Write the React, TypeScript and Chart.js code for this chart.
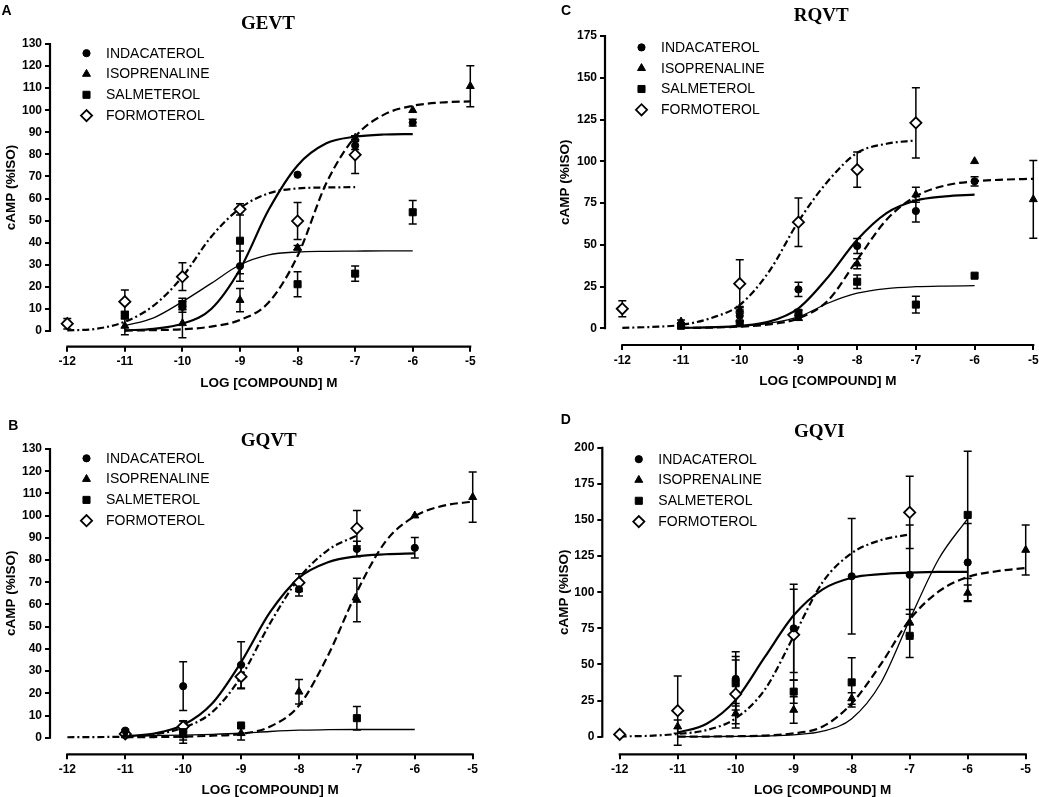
import React, { useEffect, useRef } from 'react';
import { Chart, registerables } from 'chart.js';

Chart.register(...registerables);

const FONT = '"Liberation Sans", Arial, sans-serif';
const SERIF = '"Liberation Serif", "Times New Roman", serif';

// ---------- shared labels ----------
const SERIES_NAMES = ['INDACATEROL', 'ISOPRENALINE', 'SALMETEROL', 'FORMOTEROL'];
const X_TICKS = [-12, -11, -10, -9, -8, -7, -6, -5];
const X_TITLE = 'LOG [COMPOUND] M';
const Y_TITLE = 'cAMP (%ISO)';

const FIT_X_FOR = [-12, -11.5, -11, -10.5, -10, -9.5, -9, -8.5, -8, -7.5, -7];
const FIT_X_IND = [-11, -10.5, -10, -9.5, -9, -8.5, -8, -7.5, -7, -6.5, -6];
const FIT_X_SAL = [-11, -10.5, -10, -9.5, -9, -8.5, -8, -7.5, -7, -6.5, -6];
const FIT_X_ISO = [-11, -10.5, -10, -9.5, -9, -8.5, -8, -7.5, -7, -6.5, -6, -5.5, -5];

// ---------- Panel A : GEVT ----------
const A_Y_TICKS = [0, 10, 20, 30, 40, 50, 60, 70, 80, 90, 100, 110, 120, 130];
const A_IND_X = [-11, -10, -9, -8, -7, -6];
const A_IND_Y = [7.2, 11, 29.4, 70.8, 84, 94.4];
const A_IND_E = [1.6, 2.5, 6.8, 0, 1.8, 1.5];
const A_ISO_X = [-11, -10, -9, -8, -7, -6, -5];
const A_ISO_Y = [2.3, 3.5, 14, 37.7, 87.5, 100, 110.9];
const A_ISO_E = [4, 6.5, 5.3, 1, 1, 0, 9.3];
const A_SAL_X = [-11, -10, -9, -8, -7, -6];
const A_SAL_Y = [7.2, 12.2, 40.9, 21.2, 26, 53.8];
const A_SAL_E = [1.6, 2.6, 15, 5.7, 3.5, 5.3];
const A_FOR_X = [-12, -11, -10, -9, -8, -7];
const A_FOR_Y = [3.3, 13.3, 24.6, 55.1, 49.8, 79.8];
const A_FOR_E = [2.4, 5.3, 6.3, 2.5, 8.4, 8.5];
const A_IND_FIT = [0.3, 1, 3.3, 10, 28, 55, 75, 85, 88, 89, 89.2];
const A_ISO_FIT = [0.2, 0.4, 0.8, 2, 5, 13, 34, 67, 88, 98, 102, 103.5, 104];
const A_SAL_FIT = [2.4, 6, 13.3, 21.6, 30, 34.5, 35.8, 36.1, 36.2, 36.3, 36.3];
const A_FOR_FIT = [0.3, 1, 4.2, 11.5, 24.6, 42.7, 55.6, 62.4, 64.6, 65, 65.2];

// ---------- Panel C : RQVT ----------
const C_Y_TICKS = [0, 25, 50, 75, 100, 125, 150, 175];
const C_IND_X = [-11, -10, -9, -8, -7, -6];
const C_IND_Y = [2, 7.5, 23.3, 49.3, 70.2, 88];
const C_IND_E = [1, 3.5, 4.2, 4.5, 6.5, 2.8];
const C_ISO_X = [-11, -10, -9, -8, -7, -6, -5];
const C_ISO_Y = [4, 11, 6, 38.7, 80, 100, 77.2];
const C_ISO_E = [1, 2, 1, 3, 4.5, 0, 23.3];
const C_SAL_X = [-11, -10, -9, -8, -7, -6];
const C_SAL_Y = [1.5, 3, 9.3, 27.9, 14.2, 31.5];
const C_SAL_E = [1, 1.5, 1.5, 4, 5, 0];
const C_FOR_X = [-12, -10, -9, -8, -7];
const C_FOR_Y = [11.7, 26.7, 63.5, 95, 123];
const C_FOR_E = [4.8, 14.4, 14.5, 10.5, 21];
const C_IND_FIT = [0.2, 0.6, 1.5, 4, 12, 30.5, 53, 69, 76.5, 79, 80];
const C_ISO_FIT = [0.2, 0.4, 1, 2.3, 6, 16.5, 41, 65, 79, 85.5, 88, 89, 89.5];
const C_SAL_FIT = [0.3, 0.7, 1.3, 3, 6.8, 15, 21, 23.8, 24.9, 25.3, 25.5];
const C_FOR_FIT = [0.3, 0.8, 2, 6, 14, 34, 64, 88, 105, 110.5, 112.5];

// ---------- Panel B : GQVT ----------
const B_Y_TICKS = [0, 10, 20, 30, 40, 50, 60, 70, 80, 90, 100, 110, 120, 130];
const B_IND_X = [-11, -10, -9, -8, -7, -6];
const B_IND_Y = [3.2, 23.2, 32.8, 66.8, 85, 85.5];
const B_IND_E = [0.5, 11, 10.4, 3, 3.5, 4.6];
const B_ISO_X = [-11, -10, -9, -8, -7, -6, -5];
const B_ISO_Y = [1, 1, 2, 20.7, 62, 100, 108.3];
const B_ISO_E = [0, 2, 3, 5.5, 9.8, 0, 11.3];
const B_SAL_X = [-10, -9, -7];
const B_SAL_Y = [2.5, 5.5, 8.8];
const B_SAL_E = [5, 0, 5.3];
const B_FOR_X = [-11, -10, -9, -8, -7];
const B_FOR_Y = [1.7, 5, 27.5, 69.8, 94.3];
const B_FOR_E = [0, 2.5, 5.5, 4, 8];
const B_IND_FIT = [0.7, 1.9, 5.7, 15.4, 34, 56.5, 72, 79, 81.7, 82.6, 83];
const B_ISO_FIT = [0.2, 0.3, 0.5, 0.9, 1.7, 5, 14.5, 37, 65.7, 88.5, 99.7, 104.5, 106.3];
const B_SAL_FIT = [0.8, 1, 1.2, 1.5, 2, 2.8, 3.4, 3.6, 3.7, 3.7, 3.7];
const B_FOR_FIT = [0.2, 0.3, 0.5, 1.5, 4.5, 11.5, 27.5, 51.5, 71.8, 84.5, 91];

// ---------- Panel D : GQVI ----------
const D_Y_TICKS = [0, 25, 50, 75, 100, 125, 150, 175, 200];
const D_IND_X = [-10, -9, -8, -7, -6];
const D_IND_Y = [40, 75, 111, 112, 120.6];
const D_IND_E = [18.8, 30.5, 40, 34.5, 27];
const D_ISO_X = [-11, -10, -9, -8, -7, -6, -5];
const D_ISO_Y = [7, 16, 18.5, 26.5, 79, 99.5, 129.2];
const D_ISO_E = [4.6, 7, 9.2, 4, 9, 5.5, 17.3];
const D_SAL_X = [-10, -9, -8, -7, -6];
const D_SAL_Y = [37, 31.2, 37.6, 69.8, 153.5];
const D_SAL_E = [18.5, 8, 17, 15, 44];
const D_FOR_X = [-12, -11, -10, -9, -7];
const D_FOR_Y = [1.6, 18, 29.5, 70.5, 155.2];
const D_FOR_E = [0, 24, 23.5, 31.5, 25];
const D_IND_FIT = [2.8, 9, 25.5, 55, 84, 102, 110, 112.5, 113.5, 114, 114];
const D_ISO_FIT = [0, 0.1, 0.3, 0.8, 2.3, 7, 23, 50, 81, 100.5, 110.5, 114.5, 116.8];
const D_SAL_FIT = [0, 0.1, 0.2, 0.5, 1.3, 3.8, 12.5, 37, 81, 123, 151];
const D_FOR_FIT = [0.2, 0.6, 1.9, 4.6, 12.7, 32.5, 69.5, 107, 127, 136, 140];

// ---------- styles ----------
const MARKERS = [
  { style: 'circle', radius: 3.6, fill: '#000', bw: 1 },
  { style: 'triangle', radius: 4.6, fill: '#000', bw: 1 },
  { style: 'rect', radius: 5, fill: '#000', bw: 1 },
  { style: 'rectRot', radius: 5.6, fill: '#fff', bw: 1.8 },
];
const CURVES = [
  { width: 2.2, dash: [] as number[] },
  { width: 2.2, dash: [8, 4] },
  { width: 1.3, dash: [] as number[] },
  { width: 2.2, dash: [7, 3, 2, 3] },
];

type SeriesData = { x: number[]; y: number[]; e: number[]; fx: number[]; fy: number[] };
type PanelSpec = {
  letter: string;
  title: string;
  yTicks: number[];
  series: SeriesData[];
  // layout (page pixels)
  cx: number; cy: number; cw: number; ch: number;
  L: number; R: number; T: number; B: number;
  xMin: number; yMin: number;
  letterX: number; letterY: number;
  titleX: number; titleY: number;
  yTitleX: number; legendDy: number;
};

const PANELS: PanelSpec[] = [
  {
    letter: 'A', title: 'GEVT', yTicks: A_Y_TICKS,
    series: [
      { x: A_IND_X, y: A_IND_Y, e: A_IND_E, fx: FIT_X_IND, fy: A_IND_FIT },
      { x: A_ISO_X, y: A_ISO_Y, e: A_ISO_E, fx: FIT_X_ISO, fy: A_ISO_FIT },
      { x: A_SAL_X, y: A_SAL_Y, e: A_SAL_E, fx: FIT_X_SAL, fy: A_SAL_FIT },
      { x: A_FOR_X, y: A_FOR_Y, e: A_FOR_E, fx: FIT_X_FOR, fy: A_FOR_FIT },
    ],
    cx: 0, cy: 0, cw: 519, ch: 390, L: 50, R: 470.3, T: 44, B: 346.7,
    xMin: -12.3, yMin: -7.1,
    letterX: 1.5, letterY: 15, titleX: 268, titleY: 29.3, yTitleX: 14.5, legendDy: 9.2,
  },
  {
    letter: 'C', title: 'RQVT', yTicks: C_Y_TICKS,
    series: [
      { x: C_IND_X, y: C_IND_Y, e: C_IND_E, fx: FIT_X_IND, fy: C_IND_FIT },
      { x: C_ISO_X, y: C_ISO_Y, e: C_ISO_E, fx: FIT_X_ISO, fy: C_ISO_FIT },
      { x: C_SAL_X, y: C_SAL_Y, e: C_SAL_E, fx: FIT_X_SAL, fy: C_SAL_FIT },
      { x: C_FOR_X, y: C_FOR_Y, e: C_FOR_E, fx: FIT_X_FOR, fy: C_FOR_FIT },
    ],
    cx: 519, cy: 0, cw: 540, ch: 390, L: 605, R: 1033.3, T: 36, B: 345,
    xMin: -12.295, yMin: -10,
    letterX: 561, letterY: 15, titleX: 821.2, titleY: 21, yTitleX: 568.5, legendDy: 11.4,
  },
  {
    letter: 'B', title: 'GQVT', yTicks: B_Y_TICKS,
    series: [
      { x: B_IND_X, y: B_IND_Y, e: B_IND_E, fx: FIT_X_IND, fy: B_IND_FIT },
      { x: B_ISO_X, y: B_ISO_Y, e: B_ISO_E, fx: FIT_X_ISO, fy: B_ISO_FIT },
      { x: B_SAL_X, y: B_SAL_Y, e: B_SAL_E, fx: FIT_X_SAL, fy: B_SAL_FIT },
      { x: B_FOR_X, y: B_FOR_Y, e: B_FOR_E, fx: FIT_X_FOR, fy: B_FOR_FIT },
    ],
    cx: 0, cy: 390, cw: 519, ch: 407, L: 50, R: 472.7, T: 449, B: 754.3,
    xMin: -12.3, yMin: -7.47,
    letterX: 8.3, letterY: 430, titleX: 268.8, titleY: 446, yTitleX: 14.5, legendDy: 9.3,
  },
  {
    letter: 'D', title: 'GQVI', yTicks: D_Y_TICKS,
    series: [
      { x: D_IND_X, y: D_IND_Y, e: D_IND_E, fx: FIT_X_IND, fy: D_IND_FIT },
      { x: D_ISO_X, y: D_ISO_Y, e: D_ISO_E, fx: FIT_X_ISO, fy: D_ISO_FIT },
      { x: D_SAL_X, y: D_SAL_Y, e: D_SAL_E, fx: FIT_X_SAL, fy: D_SAL_FIT },
      { x: D_FOR_X, y: D_FOR_Y, e: D_FOR_E, fx: FIT_X_FOR, fy: D_FOR_FIT },
    ],
    cx: 519, cy: 390, cw: 540, ch: 407, L: 602.3, R: 1025.7, T: 447.7, B: 754.3,
    xMin: -12.3, yMin: -12.18,
    letterX: 560.7, letterY: 423.5, titleX: 819.3, titleY: 436.5, yTitleX: 568, legendDy: 11.5,
  },
];

function drawMarker(ctx: CanvasRenderingContext2D, m: typeof MARKERS[number], x: number, y: number) {
  ctx.beginPath();
  const r = m.radius;
  if (m.style === 'circle') {
    ctx.arc(x, y, r, 0, Math.PI * 2);
  } else if (m.style === 'triangle') {
    ctx.moveTo(x, y - r);
    ctx.lineTo(x + r * 0.866, y + r * 0.5);
    ctx.lineTo(x - r * 0.866, y + r * 0.5);
    ctx.closePath();
  } else if (m.style === 'rect') {
    const s = r * Math.SQRT1_2;
    ctx.rect(x - s, y - s, 2 * s, 2 * s);
  } else {
    ctx.moveTo(x - r, y);
    ctx.lineTo(x, y - r);
    ctx.lineTo(x + r, y);
    ctx.lineTo(x, y + r);
    ctx.closePath();
  }
  ctx.fillStyle = m.fill;
  ctx.fill();
  ctx.lineWidth = m.bw;
  ctx.strokeStyle = '#000';
  ctx.stroke();
}

function makeDecor(p: PanelSpec) {
  return {
    id: 'decor' + p.letter,
    beforeDatasetsDraw(chart: any) {
      const { ctx } = chart;
      const ys = chart.scales.y;
      ctx.save();
      ctx.strokeStyle = '#000';
      ctx.lineWidth = 1.5;
      chart.data.datasets.forEach((ds: any, i: number) => {
        if (!ds.errors) return;
        const meta = chart.getDatasetMeta(i);
        meta.data.forEach((pt: any, j: number) => {
          const e = ds.errors[j];
          if (!e) return;
          const v = ds.data[j].y;
          const top = ys.getPixelForValue(v + e);
          const bot = ys.getPixelForValue(v - e);
          ctx.beginPath();
          ctx.moveTo(pt.x, top);
          ctx.lineTo(pt.x, bot);
          ctx.moveTo(pt.x - 4, top);
          ctx.lineTo(pt.x + 4, top);
          ctx.moveTo(pt.x - 4, bot);
          ctx.lineTo(pt.x + 4, bot);
          ctx.stroke();
        });
      });
      ctx.restore();
    },
    afterDraw(chart: any) {
      const { ctx, chartArea } = chart;
      const xs = chart.scales.x;
      const ys = chart.scales.y;
      const yTop = p.yTicks[p.yTicks.length - 1];
      ctx.save();
      ctx.strokeStyle = '#000';
      ctx.fillStyle = '#000';
      ctx.lineWidth = 2.2;
      ctx.beginPath();
      ctx.moveTo(chartArea.left, ys.getPixelForValue(yTop) - 1);
      ctx.lineTo(chartArea.left, ys.getPixelForValue(p.yTicks[0]) + 1);
      ctx.moveTo(xs.getPixelForValue(X_TICKS[0]) - 1, chartArea.bottom);
      ctx.lineTo(xs.getPixelForValue(X_TICKS[X_TICKS.length - 1]) + 1, chartArea.bottom);
      ctx.stroke();

      ctx.textBaseline = 'alphabetic';
      ctx.font = `bold 14px ${FONT}`;
      ctx.textAlign = 'left';
      ctx.fillText(p.letter, p.letterX - p.cx, p.letterY - p.cy);

      ctx.font = `bold 19px ${SERIF}`;
      ctx.textAlign = 'center';
      ctx.fillText(p.title, p.titleX - p.cx, p.titleY - p.cy);

      ctx.font = `bold 13.5px ${FONT}`;
      const xMid = (xs.getPixelForValue(X_TICKS[0]) + xs.getPixelForValue(X_TICKS[X_TICKS.length - 1])) / 2;
      ctx.fillText(X_TITLE, xMid, chartArea.bottom + 40);

      const yMid = (ys.getPixelForValue(p.yTicks[0]) + ys.getPixelForValue(yTop)) / 2;
      ctx.save();
      ctx.translate(p.yTitleX - p.cx, yMid);
      ctx.rotate(-Math.PI / 2);
      ctx.fillText(Y_TITLE, 0, 0);
      ctx.restore();

      ctx.font = `14px ${FONT}`;
      ctx.textAlign = 'left';
      ctx.textBaseline = 'middle';
      SERIES_NAMES.forEach((name, i) => {
        const ly = chartArea.top + p.legendDy + i * 20.8;
        drawMarker(ctx, MARKERS[i], chartArea.left + 36.5, ly);
        ctx.fillStyle = '#000';
        ctx.fillText(name, chartArea.left + 56, ly + 0.5);
      });
      ctx.restore();
    },
  };
}

function buildConfig(p: PanelSpec): any {
  const pointSets = p.series.map((s, i) => ({
    label: SERIES_NAMES[i],
    data: s.x.map((x, j) => ({ x, y: s.y[j] })),
    errors: s.e,
    showLine: false,
    pointStyle: MARKERS[i].style,
    pointRadius: MARKERS[i].radius,
    pointBackgroundColor: MARKERS[i].fill,
    pointBorderColor: '#000',
    pointBorderWidth: MARKERS[i].bw,
    borderColor: '#000',
    clip: false,
  }));
  const curveSets = p.series.map((s, i) => ({
    label: SERIES_NAMES[i] + ' fit',
    data: s.fx.map((x, j) => ({ x, y: s.fy[j] })),
    showLine: true,
    pointRadius: 0,
    borderColor: '#000',
    borderWidth: CURVES[i].width,
    borderDash: CURVES[i].dash,
    cubicInterpolationMode: 'monotone',
    fill: false,
    clip: false,
  }));
  const yMax = p.yTicks[p.yTicks.length - 1];
  const tickFont = { family: FONT, size: 12, weight: 'bold' };
  return {
    type: 'line',
    data: { datasets: [...pointSets, ...curveSets] },
    options: {
      responsive: false,
      animation: false,
      devicePixelRatio: 1,
      events: [],
      layout: {
        padding: { top: p.T - p.cy, right: p.cx + p.cw - p.R, left: 0, bottom: 0 },
      },
      plugins: { legend: { display: false }, tooltip: { enabled: false }, title: { display: false } },
      scales: {
        x: {
          type: 'linear',
          min: p.xMin,
          max: X_TICKS[X_TICKS.length - 1],
          afterBuildTicks: (sc: any) => {
            sc.ticks = X_TICKS.map((v) => ({ value: v }));
          },
          afterFit: (sc: any) => {
            sc.height = p.cy + p.ch - p.B;
          },
          grid: { display: true, drawOnChartArea: false, drawTicks: true, tickLength: 5, color: '#000', lineWidth: 2 },
          border: { display: false },
          ticks: { font: tickFont, color: '#000', padding: 3, autoSkip: false, maxRotation: 0, callback: (v: any) => String(v) },
        },
        y: {
          type: 'linear',
          min: p.yMin,
          max: yMax,
          afterBuildTicks: (sc: any) => {
            sc.ticks = p.yTicks.map((v) => ({ value: v }));
          },
          afterFit: (sc: any) => {
            sc.width = p.L - p.cx;
          },
          grid: { display: true, drawOnChartArea: false, drawTicks: true, tickLength: 5, color: '#000', lineWidth: 2 },
          border: { display: false },
          ticks: { font: tickFont, color: '#000', padding: 3, autoSkip: false, callback: (v: any) => String(v) },
        },
      },
    },
    plugins: [makeDecor(p)],
  };
}

function Panel({ spec }: { spec: PanelSpec }) {
  const ref = useRef<HTMLCanvasElement | null>(null);
  useEffect(() => {
    if (!ref.current) return;
    const chart = new Chart(ref.current, buildConfig(spec));
    return () => chart.destroy();
  }, [spec]);
  return (
    <canvas
      ref={ref}
      width={spec.cw}
      height={spec.ch}
      style={{ position: 'absolute', left: spec.cx, top: spec.cy, width: spec.cw, height: spec.ch }}
    />
  );
}

export default function App() {
  return (
    <div
      style={{
        position: 'absolute',
        left: 0,
        top: 0,
        width: 1039,
        height: 797,
        overflow: 'hidden',
        background: '#fff',
      }}
    >
      {PANELS.map((p) => (
        <Panel key={p.letter} spec={p} />
      ))}
    </div>
  );
}
